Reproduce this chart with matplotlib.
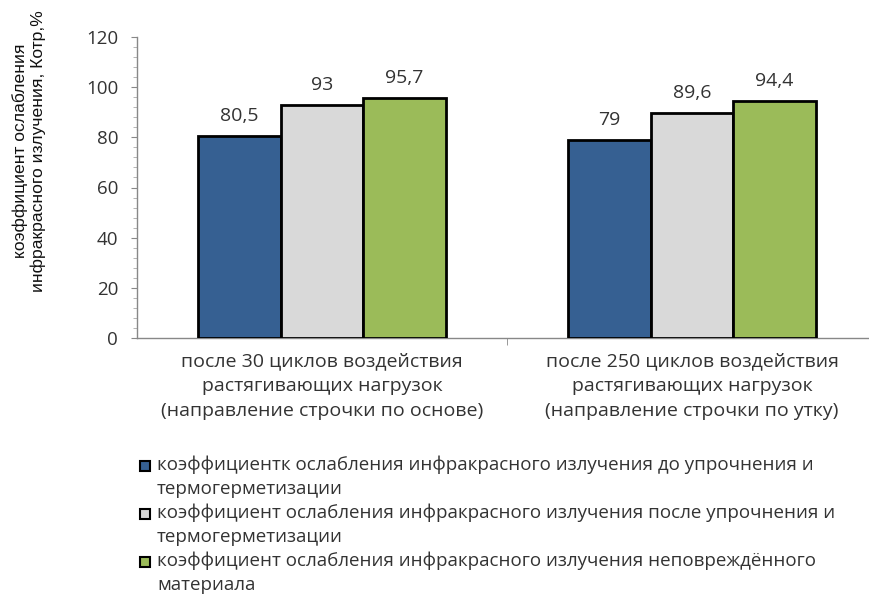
import matplotlib
matplotlib.use("Agg")
import matplotlib.pyplot as plt
import numpy as np
from matplotlib.ticker import MultipleLocator, FixedLocator
from matplotlib.patches import Rectangle

categories = [
    "после 30 циклов воздействия\nрастягивающих нагрузок\n(направление строчки по основе)",
    "после 250 циклов воздействия\nрастягивающих нагрузок\n(направление строчки по утку)",
]
series_names = [
    "коэффициентк ослабления инфракрасного излучения до упрочнения и\nтермогерметизации",
    "коэффициент ослабления инфракрасного излучения после упрочнения и\nтермогерметизации",
    "коэффициент ослабления инфракрасного излучения неповреждённого\nматериала",
]
before = [80.5, 79]
after = [93, 89.6]
intact = [95.7, 94.4]
value_labels = [["80,5", "79"], ["93", "89,6"], ["95,7", "94,4"]]
colors = ["#366092", "#D9D9D9", "#9BBB59"]

FONT = ["Open Sans", "DejaVu Sans"]
plt.rcParams["font.family"] = FONT
TXT = "#333333"

fig = plt.figure(figsize=(8.7, 5.96), dpi=100)
W, H = 870, 596
left, right, top, bottom = 137, 870, 37, 338
ax = fig.add_axes([left / W, 1 - bottom / H, (right - left) / W, (bottom - top) / H])

cat_px = 370.0
x = np.arange(len(categories))
bw = 82.5 / cat_px
series = [before, after, intact]
for i, (vals, c) in enumerate(zip(series, colors)):
    pos = x + (i - 1) * bw
    bars = ax.bar(pos, vals, width=bw, color=c, edgecolor="black", linewidth=2.0,
                  label=series_names[i], zorder=3)
    for b, lab in zip(bars, value_labels[i]):
        ax.annotate(lab, (b.get_x() + b.get_width() / 2, b.get_height()),
                    xytext=(0, 8), textcoords="offset points", ha="center", va="bottom",
                    fontsize=14, color=TXT)

ax.set_xlim(-0.5, -0.5 + (right - left) / cat_px)
ax.set_ylim(0, 120)
ax.yaxis.set_major_locator(MultipleLocator(20))
ax.yaxis.set_minor_locator(MultipleLocator(4))
ax.tick_params(axis="y", which="major", length=4.5, color="#888888", labelsize=13.5,
               labelcolor=TXT, pad=9)
ax.tick_params(axis="y", which="minor", length=3, color="#aaaaaa")

ax.xaxis.set_major_locator(FixedLocator(x))
ax.set_xticklabels(categories, fontsize=14, color=TXT, linespacing=1.52)
ax.xaxis.set_minor_locator(FixedLocator([0.5]))
ax.tick_params(axis="x", which="major", length=0, pad=10)
ax.tick_params(axis="x", which="minor", length=5, color="#888888")

for s in ["top", "right"]:
    ax.spines[s].set_visible(False)
for s in ["left", "bottom"]:
    ax.spines[s].set_color("#888888")
    ax.spines[s].set_linewidth(1.0)

fig.text(29 / W, 1 - 151 / H, "коэффициент ослабления\nинфракрасного излучения, Котр,%",
         rotation=90, ha="center", va="center", fontsize=12.6, color="#111111",
         family=["Liberation Sans", "DejaVu Sans"], linespacing=1.2)

# legend: square marker aligned with the first line of each entry
y0 = 466
for i, (name, c) in enumerate(zip(series_names, colors)):
    yc = y0 + i * 48
    fig.patches.append(Rectangle((140 / W, 1 - (yc + 5) / H), 10 / W, 10 / H,
                                 transform=fig.transFigure, facecolor=c,
                                 edgecolor="black", linewidth=1.5))
    fig.text(157 / W, 1 - (yc - 11) / H, name, ha="left", va="top", fontsize=13.5,
             color=TXT, linespacing=1.45)

fig.savefig("out.png", dpi=100)
